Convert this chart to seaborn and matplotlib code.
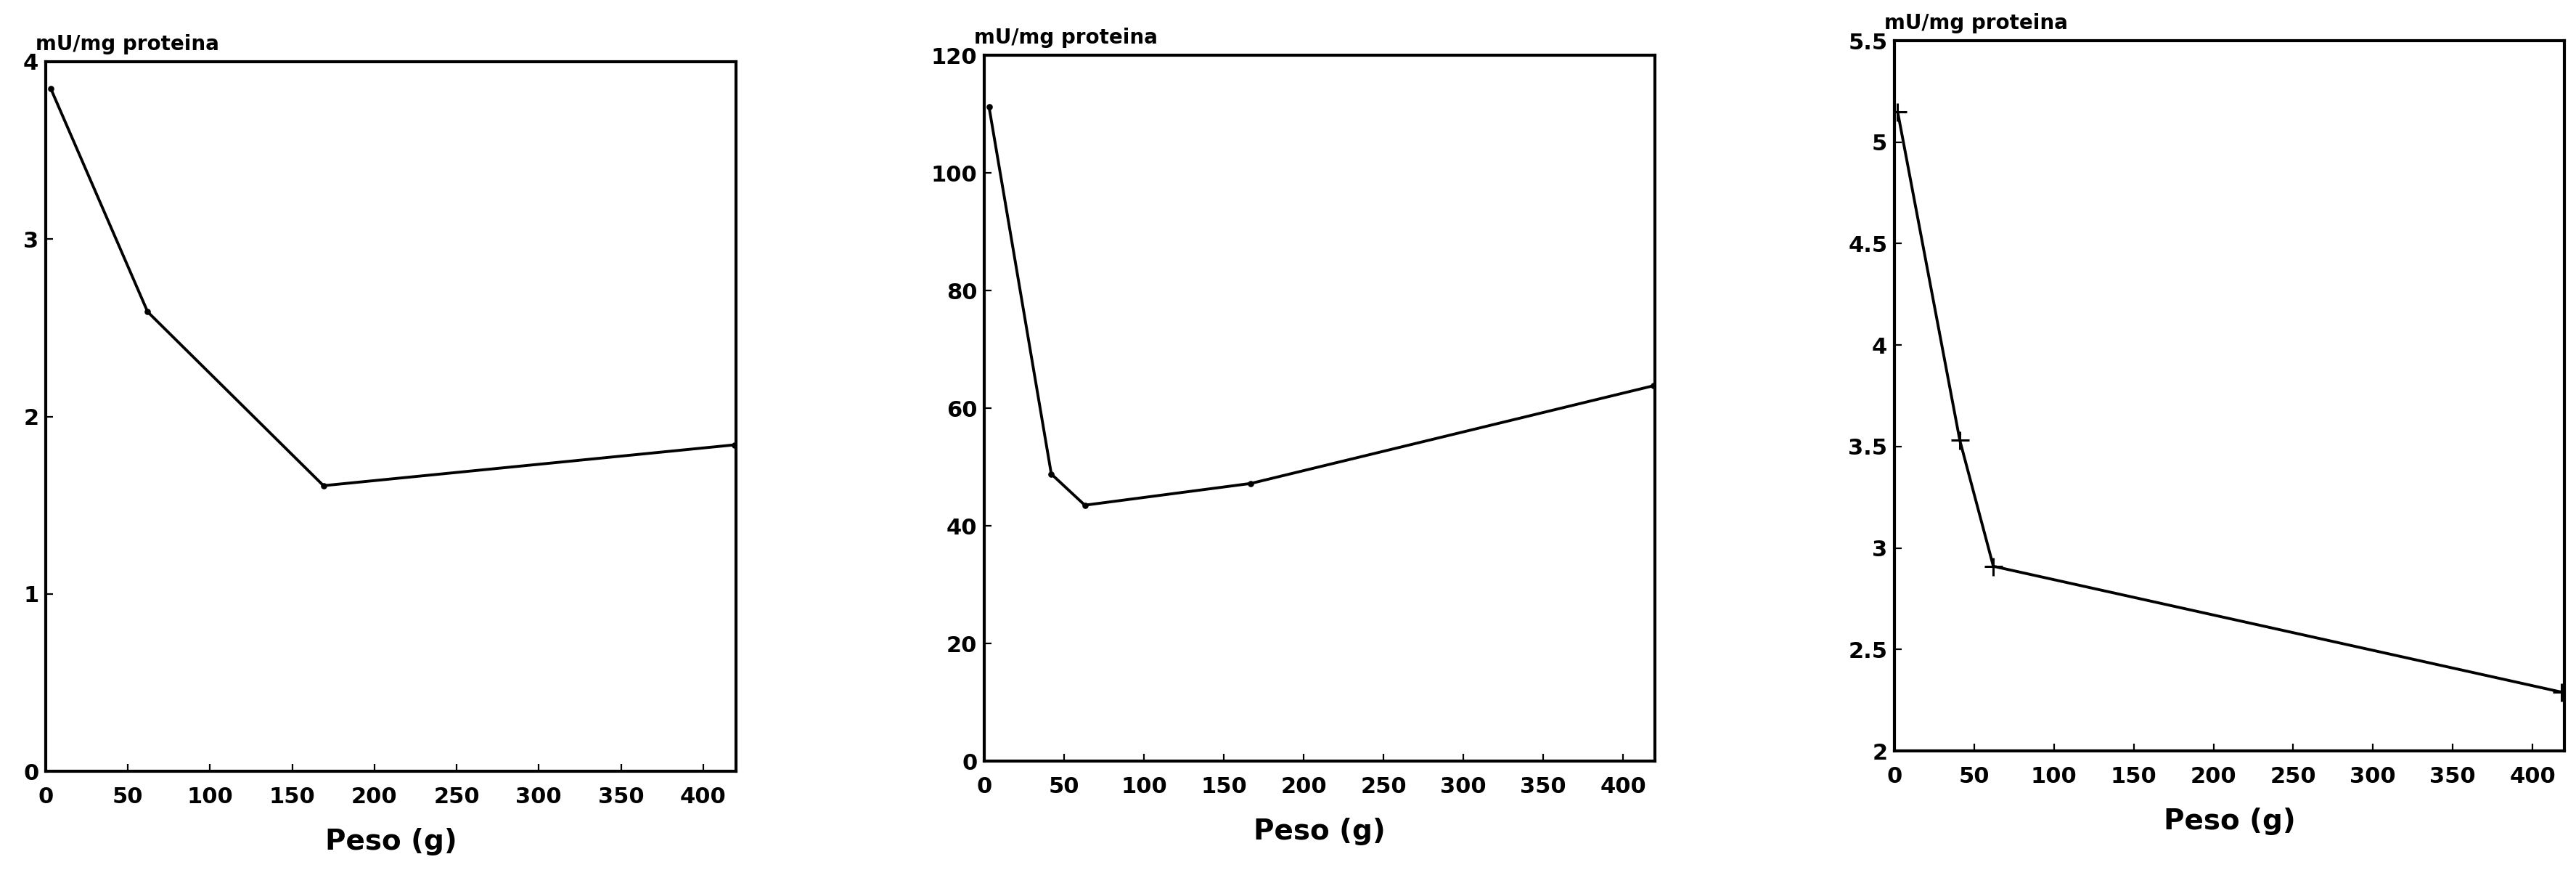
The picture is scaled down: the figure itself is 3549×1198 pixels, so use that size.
import matplotlib
matplotlib.use("Agg")
import matplotlib.pyplot as plt
import seaborn as sns
import pandas as pd

# ---- data ----
peso_1 = [3, 62, 169, 419]
act_1 = [3.85, 2.59, 1.61, 1.84]

peso_2 = [3, 42, 63, 167, 419]
act_2 = [111.2, 48.8, 43.5, 47.2, 63.8]

peso_3 = [2, 41, 62, 418]
act_3 = [5.15, 3.53, 2.91, 2.29]

x_ticks = [0, 50, 100, 150, 200, 250, 300, 350, 400]
y_ticks_1 = [0, 1, 2, 3, 4]
y_ticks_2 = [0, 20, 40, 60, 80, 100, 120]
y_ticks_3 = [2, 2.5, 3, 3.5, 4, 4.5, 5, 5.5]
y_ticklabels_3 = ["2", "2.5", "3", "3.5", "4", "4.5", "5", "5.5"]

y_label = "mU/mg proteina"
x_label = "Peso (g)"

sns.set_style("ticks")
plt.rcParams["font.family"] = ["DejaVu Sans"]
plt.rcParams["font.weight"] = "bold"
plt.rcParams["text.color"] = "black"
plt.rcParams["axes.labelcolor"] = "black"

W, H = 3549, 1198
fig = plt.figure(figsize=(W / 100, H / 100), dpi=100)
fig.patch.set_facecolor("white")

# axes rectangles in pixels: left, top, right, bottom
rects = [(63, 85, 1014, 1062), (1356, 76, 2280, 1048), (2610, 56, 3533, 1034)]

panels = [
    (peso_1, act_1, (0, 4), y_ticks_1, None, "o", 4),
    (peso_2, act_2, (0, 120), y_ticks_2, None, "o", 4),
    (peso_3, act_3, (2, 5.5), y_ticks_3, y_ticklabels_3, "+", 18),
]

for (l, t, r, b), (xs, ys, ylim, yt, ytl, mk, ms) in zip(rects, panels):
    ax = fig.add_axes([l / W, 1 - b / H, (r - l) / W, (b - t) / H])
    df = pd.DataFrame({"peso": xs, "act": ys})
    sns.lineplot(data=df, x="peso", y="act", ax=ax, color="black", linewidth=2.8,
                 marker=mk, markersize=ms, markeredgewidth=2.2,
                 markeredgecolor="black", markerfacecolor="black")
    ax.set_xlim(0, 420)
    ax.set_ylim(*ylim)
    ax.set_xticks(x_ticks)
    ax.set_xticklabels([str(v) for v in x_ticks])
    ax.set_yticks(yt)
    if ytl is not None:
        ax.set_yticklabels(ytl)
    else:
        ax.set_yticklabels([str(v) for v in yt])
    for s in ax.spines.values():
        s.set_visible(True)
        s.set_linewidth(3)
        s.set_color("black")
    ax.tick_params(axis="both", direction="in", length=7, width=1.6, color="black",
                   labelsize=22, labelcolor="black")
    ax.tick_params(axis="x", pad=15)
    ax.tick_params(axis="y", pad=7)
    for lab in ax.get_xticklabels() + ax.get_yticklabels():
        lab.set_fontweight("bold")
    ax.set_ylabel("")
    ax.set_xlabel(x_label, fontsize=28, fontweight="bold", labelpad=20, color="black")
    ax.text(-0.015, 1.01, y_label, transform=ax.transAxes, ha="left", va="bottom",
            fontsize=20, fontweight="bold", color="black")

fig.savefig("out.png", dpi=100, facecolor="white")
